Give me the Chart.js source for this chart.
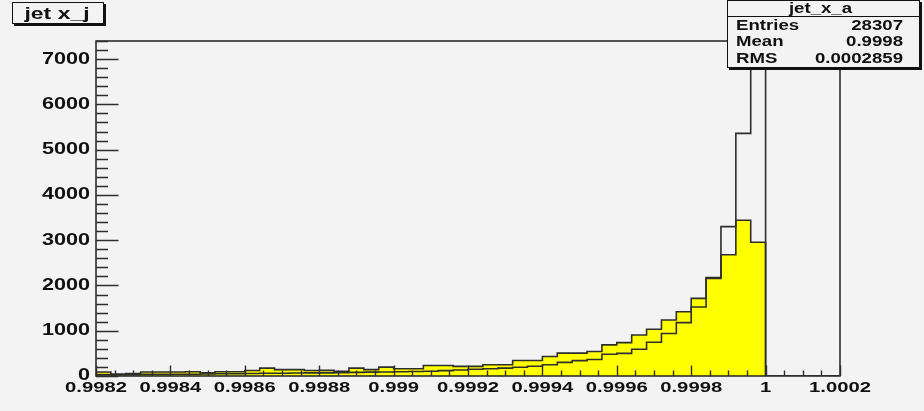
<!DOCTYPE html>
<html>
<head>
<meta charset="utf-8">
<title>jet x_j</title>
<script src="https://cdn.jsdelivr.net/npm/chart.js@4.4.1/dist/chart.umd.min.js"></script>
<style>
  html, body { margin: 0; padding: 0; background: #f3f3f3; }
  #wrap { position: relative; width: 924px; height: 411px; }
  canvas { display: block; }
</style>
</head>
<body>
<div id="wrap"><canvas id="c" width="924" height="411"></canvas></div>
<script>
// Histogram binning: 50 bins on [0.9982, 1.0002]
const histLow = 0.9982;
const histHigh = 1.0002;
const binCount = 50;

// Filled (yellow) histogram, counts per bin
const filledCounts = [
  90, 45, 55, 90, 90, 90, 95, 70, 95, 95,
  120, 175, 140, 140, 120, 125, 105, 175, 140, 195,
  160, 160, 232, 232, 212, 212, 250, 250, 342, 342,
  430, 505, 505, 540, 687, 738, 907, 1033, 1238, 1420,
  1715, 2175, 2680, 3440, 2956, 0, 0, 0, 0, 0
];

// Outline-only histogram (jet_x_a), counts per bin
const outlineCounts = [
  30, 25, 30, 35, 35, 40, 40, 45, 50, 50,
  55, 60, 60, 65, 70, 70, 75, 80, 85, 90,
  95, 100, 105, 118, 132, 148, 160, 175, 192, 215,
  250, 300, 340, 365, 480, 500, 592, 745, 940, 1180,
  1525, 2155, 3300, 5360, 7050, 0, 0, 0, 0, 0
];

// Axis ticks and labels
const xTickValues = [0.9982, 0.9984, 0.9986, 0.9988, 0.9990, 0.9992, 0.9994, 0.9996, 0.9998, 1.0000, 1.0002];
const xTickLabels = ["0.9982", "0.9984", "0.9986", "0.9988", "0.999", "0.9992", "0.9994", "0.9996", "0.9998", "1", "1.0002"];
const xMinorStep = 0.00005;
const yTickValues = [0, 1000, 2000, 3000, 4000, 5000, 6000, 7000];
const yTickLabels = ["0", "1000", "2000", "3000", "4000", "5000", "6000", "7000"];
const yMinorStep = 200;
const yMax = 7400;

// Title and statistics box text
const histTitle = "jet x_j";
const statsName = "jet_x_a";
const statsLabels = ["Entries", "Mean", "RMS"];
const statsValues = ["28307", "0.9998", "0.0002859"];

// ---------------------------------------------------------------
const BG = '#f3f3f3';
const INK = '#111111';
const LINE = '#2e2e2e';
const FONT = '"Liberation Sans", Arial, Helvetica, sans-serif';
const TEXT_STRETCH = 1.35;   // wide lettering, as on the original canvas

const canvas = document.getElementById('c');
const ctx = canvas.getContext('2d');

// Horizontally widened text, stretched about its anchor so alignment holds
const nativeFillText = CanvasRenderingContext2D.prototype.fillText;
ctx.fillText = function (text, x, y, maxWidth) {
  this.save();
  this.translate(x, y);
  this.scale(TEXT_STRETCH, 1);
  if (maxWidth === undefined || maxWidth === null) {
    nativeFillText.call(this, text, 0, 0);
  } else {
    nativeFillText.call(this, text, 0, 0, maxWidth / TEXT_STRETCH);
  }
  this.restore();
};

const binWidth = (histHigh - histLow) / binCount;
const binEdges = Array.from({ length: binCount + 1 }, (_, i) => histLow + i * binWidth);

// Step outline: rise at the first edge, one flat step per bin, drop at the last edge
function stepPoints(counts) {
  const pts = [{ x: binEdges[0], y: 0 }];
  counts.forEach((v, i) => pts.push({ x: binEdges[i], y: v }));
  pts.push({ x: binEdges[binCount], y: 0 });
  return pts;
}

const backgroundPlugin = {
  id: 'background',
  beforeDraw(chart) {
    const c = chart.ctx;
    c.save();
    c.fillStyle = BG;
    c.fillRect(0, 0, chart.width, chart.height);
    c.restore();
  }
};

// Frame plus inward-pointing major/minor ticks
const framePlugin = {
  id: 'frame',
  afterDatasetsDraw(chart) {
    const c = chart.ctx;
    const a = chart.chartArea;
    const xs = chart.scales.x;
    const ys = chart.scales.y;
    c.save();
    c.strokeStyle = LINE;
    c.lineWidth = 1.4;
    c.beginPath();
    // y ticks, from the left edge to the right
    const yMajorLen = 22.5, yMinorLen = 12;
    for (let v = 0; v <= yMax + 1e-6; v += yMinorStep) {
      const py = Math.round(ys.getPixelForValue(v)) + 0.5;
      const major = yTickValues.includes(v);
      c.moveTo(a.left, py);
      c.lineTo(a.left + (major ? yMajorLen : yMinorLen), py);
    }
    // x ticks, from the bottom edge upward
    const xMajorLen = 10.5, xMinorLen = 5.5;
    const nMinor = Math.round((histHigh - histLow) / xMinorStep);
    for (let k = 0; k <= nMinor; k++) {
      const v = histLow + k * xMinorStep;
      const px = Math.round(xs.getPixelForValue(v)) + 0.5;
      const major = k % 4 === 0;
      c.moveTo(px, a.bottom);
      c.lineTo(px, a.bottom - (major ? xMajorLen : xMinorLen));
    }
    c.stroke();
    c.lineWidth = 1.6;
    c.strokeRect(a.left, a.top, a.right - a.left, a.bottom - a.top);
    c.restore();
  }
};

function drawBox(c, x, y, w, h) {
  c.fillStyle = BG;
  c.fillRect(x, y, w, h);
  c.fillStyle = INK;
  c.fillRect(x + 2, y + h, w, 2);
  c.fillRect(x + w, y + 2, 2, h);
  c.strokeStyle = INK;
  c.lineWidth = 1;
  c.strokeRect(x + 0.5, y + 0.5, w - 1, h - 1);
}

// Title box and statistics box
const labelsPlugin = {
  id: 'boxes',
  afterDraw(chart) {
    const c = chart.ctx;
    c.save();
    // title box
    drawBox(c, 12, 2, 92, 22);
    c.fillStyle = INK;
    c.font = 'bold 17px ' + FONT;
    c.textAlign = 'center';
    c.textBaseline = 'alphabetic';
    c.fillText(histTitle, 57, 18.5);

    // statistics box
    const bx = 727, by = 0, bw = 193, bh = 68;
    drawBox(c, bx, by, bw, bh);
    c.beginPath();
    c.moveTo(bx, 16.5);
    c.lineTo(bx + bw, 16.5);
    c.stroke();
    c.fillStyle = INK;
    c.font = 'bold 13.8px ' + FONT;
    c.textBaseline = 'middle';
    c.textAlign = 'center';
    c.fillText(statsName, bx + bw / 2 - 3, 9);
    const rowY = [26, 42.5, 59];
    statsLabels.forEach((lab, i) => {
      c.textAlign = 'left';
      c.fillText(lab, 736, rowY[i]);
      c.textAlign = 'right';
      c.fillText(statsValues[i], 903, rowY[i]);
    });
    c.restore();
  }
};

new Chart(ctx, {
  type: 'line',
  data: {
    datasets: [
      {
        label: statsName,
        data: stepPoints(outlineCounts),
        stepped: 'before',
        borderColor: LINE,
        borderWidth: 1.6,
        pointRadius: 0,
        fill: false,
        order: 0
      },
      {
        label: histTitle,
        data: stepPoints(filledCounts),
        stepped: 'before',
        borderColor: LINE,
        borderWidth: 1.6,
        backgroundColor: '#ffff00',
        pointRadius: 0,
        fill: 'origin',
        order: 1
      }
    ]
  },
  options: {
    responsive: false,
    animation: false,
    devicePixelRatio: 1,
    parsing: false,
    layout: { padding: { left: 0, right: 84, top: 41, bottom: 0 } },
    plugins: {
      legend: { display: false },
      title: { display: false },
      tooltip: { enabled: false }
    },
    scales: {
      x: {
        type: 'linear',
        min: histLow,
        max: histHigh,
        grid: { display: false, drawTicks: false },
        border: { display: false },
        afterBuildTicks(scale) { scale.ticks = xTickValues.map(v => ({ value: v })); },
        afterFit(scale) { scale.height = 35; },
        ticks: {
          autoSkip: false,
          maxRotation: 0,
          padding: 3,
          color: INK,
          font: { family: FONT, weight: 'bold', size: 15 },
          callback: (v, i) => xTickLabels[i]
        }
      },
      y: {
        type: 'linear',
        min: 0,
        max: yMax,
        grid: { display: false, drawTicks: false },
        border: { display: false },
        afterBuildTicks(scale) { scale.ticks = yTickValues.map(v => ({ value: v })); },
        afterFit(scale) { scale.width = 96; },
        ticks: {
          padding: 6,
          color: INK,
          font: { family: FONT, weight: 'bold', size: 16 },
          callback: (v, i) => yTickLabels[i]
        }
      }
    }
  },
  plugins: [backgroundPlugin, framePlugin, labelsPlugin]
});
</script>
</body>
</html>
